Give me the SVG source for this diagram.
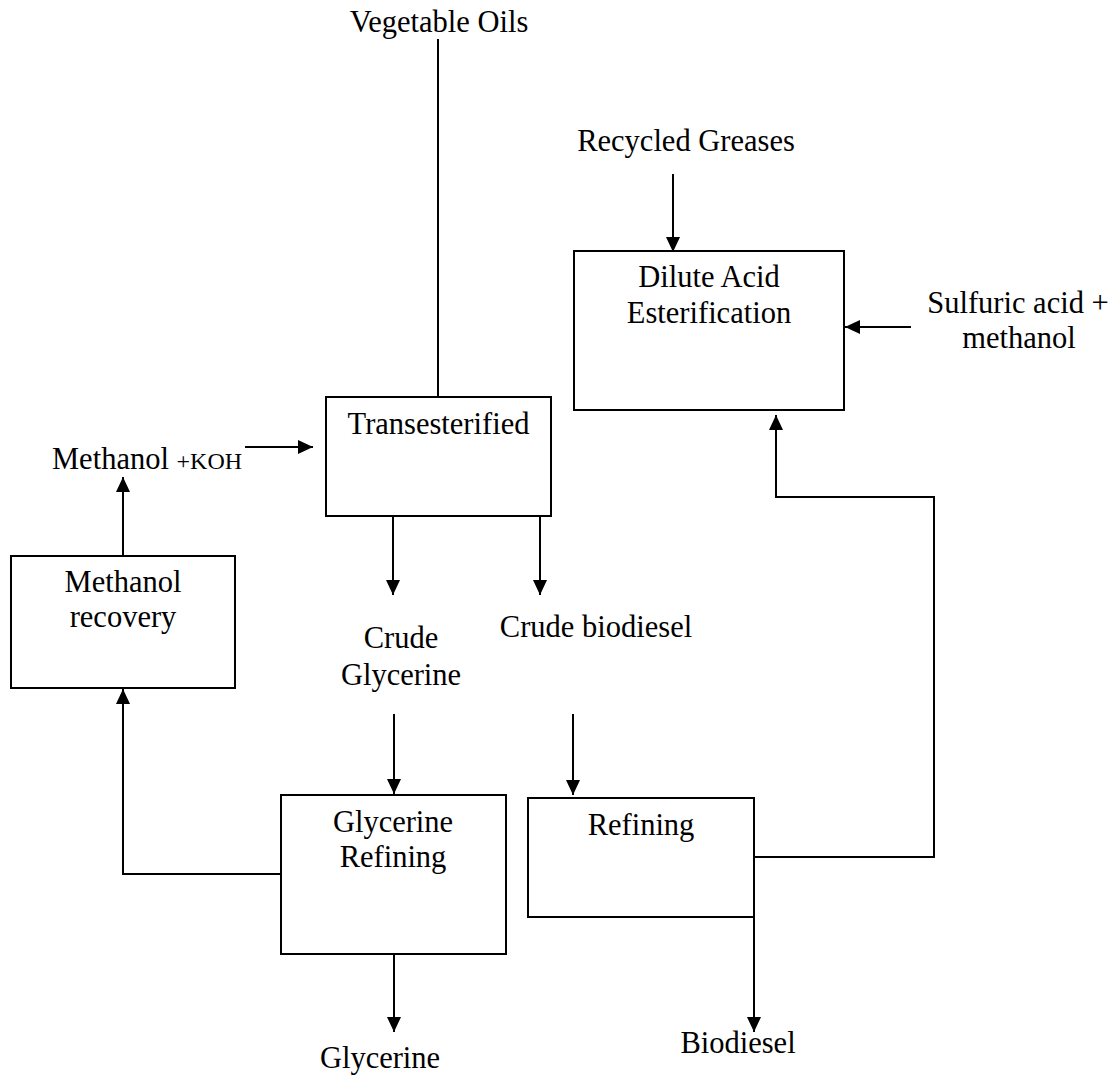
<svg xmlns="http://www.w3.org/2000/svg" width="1115" height="1078" viewBox="0 0 1115 1078">
<style>
.box{fill:#fff;stroke:#000;stroke-width:2}
.ln{fill:none;stroke:#000;stroke-width:2}
.arr{marker-end:url(#ah)}
text{font-family:"Liberation Serif","Times New Roman",serif;font-size:30.5px;fill:#000;text-anchor:middle}
.sm{font-size:24px}
</style>
<defs>
<marker id="ah" markerUnits="userSpaceOnUse" markerWidth="15" markerHeight="14" refX="15" refY="7" orient="auto">
<path d="M0,0 L15,7 L0,14 Z" fill="#000"/>
</marker>
</defs>
<rect width="1115" height="1078" fill="#fff"/>
<g id="connectors">
<path class="ln" d="M438,39 V397"/>
<path class="ln arr" d="M673,174 V252"/>
<path class="ln arr" d="M911,327 H845"/>
<path class="ln arr" d="M245,447 H313"/>
<path class="ln arr" d="M123,556 V477"/>
<path class="ln arr" d="M393,516 V595"/>
<path class="ln arr" d="M540,516 V595"/>
<path class="ln arr" d="M394,714 V794"/>
<path class="ln arr" d="M573,714 V795"/>
<path class="ln arr" d="M281,874 H123 V689"/>
<path class="ln arr" d="M394,954 V1032"/>
<path class="ln arr" d="M754,917 V1032"/>
<path class="ln arr" d="M754,857 H934 V497 H776 V415"/>
</g>
<g id="vegetable-oils"><text x="439" y="32">Vegetable Oils</text></g>
<g id="recycled-greases"><text x="686" y="151">Recycled Greases</text></g>
<g id="dilute-acid">
<rect class="box" x="574" y="251" width="270" height="159"/>
<text x="709" y="287">Dilute Acid</text>
<text x="709" y="323">Esterification</text>
</g>
<g id="sulfuric-acid">
<text x="1018" y="313">Sulfuric acid +</text>
<text x="1019" y="348">methanol</text>
</g>
<g id="transesterified">
<rect class="box" x="326" y="397" width="225" height="119"/>
<text x="438.5" y="434">Transesterified</text>
</g>
<g id="methanol-koh"><text x="52" y="469" style="text-anchor:start">Methanol <tspan class="sm">+KOH</tspan></text></g>
<g id="methanol-recovery">
<rect class="box" x="11" y="556" width="224" height="132"/>
<text x="123" y="592">Methanol</text>
<text x="123" y="627">recovery</text>
</g>
<g id="crude-glycerine">
<text x="401" y="648">Crude</text>
<text x="401" y="685">Glycerine</text>
</g>
<g id="crude-biodiesel"><text x="596" y="637">Crude biodiesel</text></g>
<g id="glycerine-refining">
<rect class="box" x="281" y="795" width="225" height="159"/>
<text x="393" y="832">Glycerine</text>
<text x="393" y="867">Refining</text>
</g>
<g id="refining">
<rect class="box" x="528" y="798" width="226" height="119"/>
<text x="641" y="835">Refining</text>
</g>
<g id="glycerine"><text x="380" y="1068">Glycerine</text></g>
<g id="biodiesel"><text x="738" y="1053">Biodiesel</text></g>
</svg>
